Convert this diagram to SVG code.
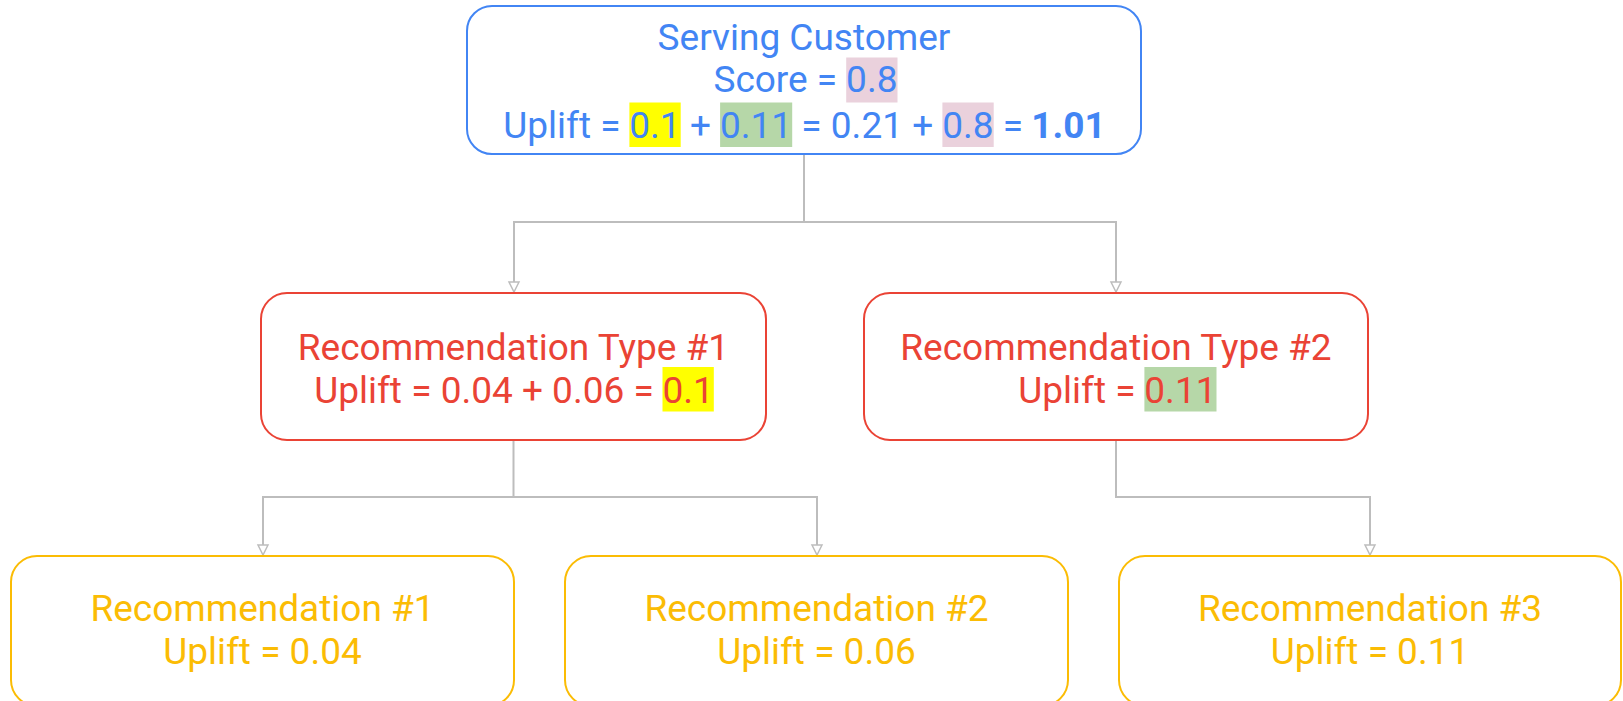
<svg xmlns="http://www.w3.org/2000/svg" width="1623" height="701" viewBox="0 0 1623 701">
  <style>
    text { font-family: Roboto, "Noto Sans", "Liberation Sans", sans-serif; font-size: 37px; text-anchor: middle; }
    .blue { fill: #4285F4; }
    .red { fill: #EA4335; }
    .yel { fill: #FBBC04; }
    .box { fill: #FFFFFF; stroke-width: 2; }
    .bBlue { stroke: #4285F4; }
    .bRed { stroke: #EA4335; }
    .bYel { stroke: #FBBC04; }
    .hlY { fill: #FFFF00; }
    .hlG { fill: #B6D7A8; }
    .hlP { fill: #EAD1DC; }
    .link { fill: none; stroke: #BDBDBD; stroke-width: 2; marker-end: url(#arrow); }
    .bold { font-weight: bold; }
  </style>
  <defs>
    <marker id="arrow" markerUnits="userSpaceOnUse" markerWidth="12" markerHeight="14" viewBox="0 0 12 14" refX="11" refY="7" orient="auto">
      <path d="M1,2 L11,7 L1,12 Z" fill="#FFFFFF" stroke="#BDBDBD" stroke-width="1.5"/>
    </marker>
  </defs>

  <rect width="1623" height="701" fill="#FFFFFF"/>

  <!-- connectors -->
  <g id="connectors">
    <path class="link" d="M804,154 V222 H514 V292"/>
    <path class="link" d="M804,222 H1116 V292"/>
    <path class="link" d="M513.5,440 V497 H263 V555"/>
    <path class="link" d="M513.5,497 H817 V555"/>
    <path class="link" d="M1116,440 V497 H1370 V555"/>
  </g>

  <!-- root node -->
  <g id="serving-customer">
    <rect class="box bBlue" x="467" y="6" width="674" height="148" rx="25"/>
    <rect class="hlP" x="846.2" y="57.5" width="51.3" height="45"/>
    <rect class="hlY" x="629.4" y="102.5" width="51.3" height="44.5"/>
    <rect class="hlG" x="720.1" y="102.5" width="72.1" height="44.5"/>
    <rect class="hlP" x="942.4" y="102.5" width="51.3" height="44.5"/>
    <text class="blue" x="804" y="49.5">Serving Customer</text>
    <text class="blue" x="775.3" y="92">Score =</text>
    <text class="blue" x="871.8" y="92">0.8</text>
    <text class="blue" x="561.9" y="137.5">Uplift =</text>
    <text class="blue" x="655" y="137.5">0.1</text>
    <text class="blue" x="700.4" y="137.5">+</text>
    <text class="blue" x="756.1" y="137.5">0.11</text>
    <text class="blue" x="811.5" y="137.5">=</text>
    <text class="blue" x="866.9" y="137.5">0.21</text>
    <text class="blue" x="922.7" y="137.5">+</text>
    <text class="blue" x="968" y="137.5">0.8</text>
    <text class="blue" x="1013" y="137.5">=</text>
    <text class="blue bold" x="1068.5" y="137.5">1.01</text>
  </g>

  <!-- second level -->
  <g id="recommendation-type-1">
    <rect class="box bRed" x="261" y="293" width="505" height="147" rx="26"/>
    <rect class="hlY" x="662.5" y="367" width="51.3" height="44.5"/>
    <text class="red" x="513.5" y="360">Recommendation Type #1</text>
    <text class="red" x="484" y="403">Uplift = 0.04 + 0.06 =</text>
    <text class="red" x="688.1" y="403">0.1</text>
  </g>

  <g id="recommendation-type-2">
    <rect class="box bRed" x="864" y="293" width="504" height="147" rx="26"/>
    <rect class="hlG" x="1144.4" y="367" width="72.1" height="44.5"/>
    <text class="red" x="1116" y="360">Recommendation Type #2</text>
    <text class="red" x="1076.9" y="403">Uplift =</text>
    <text class="red" x="1180.4" y="403">0.11</text>
  </g>

  <!-- leaves -->
  <g id="recommendation-1">
    <rect class="box bYel" x="11" y="556" width="503" height="150" rx="26"/>
    <text class="yel" x="262.5" y="621">Recommendation #1</text>
    <text class="yel" x="262.5" y="663.5">Uplift = 0.04</text>
  </g>

  <g id="recommendation-2">
    <rect class="box bYel" x="565" y="556" width="503" height="150" rx="26"/>
    <text class="yel" x="816.5" y="621">Recommendation #2</text>
    <text class="yel" x="816.5" y="663.5">Uplift = 0.06</text>
  </g>

  <g id="recommendation-3">
    <rect class="box bYel" x="1119" y="556" width="502" height="150" rx="26"/>
    <text class="yel" x="1370" y="621">Recommendation #3</text>
    <text class="yel" x="1370" y="663.5">Uplift = 0.11</text>
  </g>
</svg>
